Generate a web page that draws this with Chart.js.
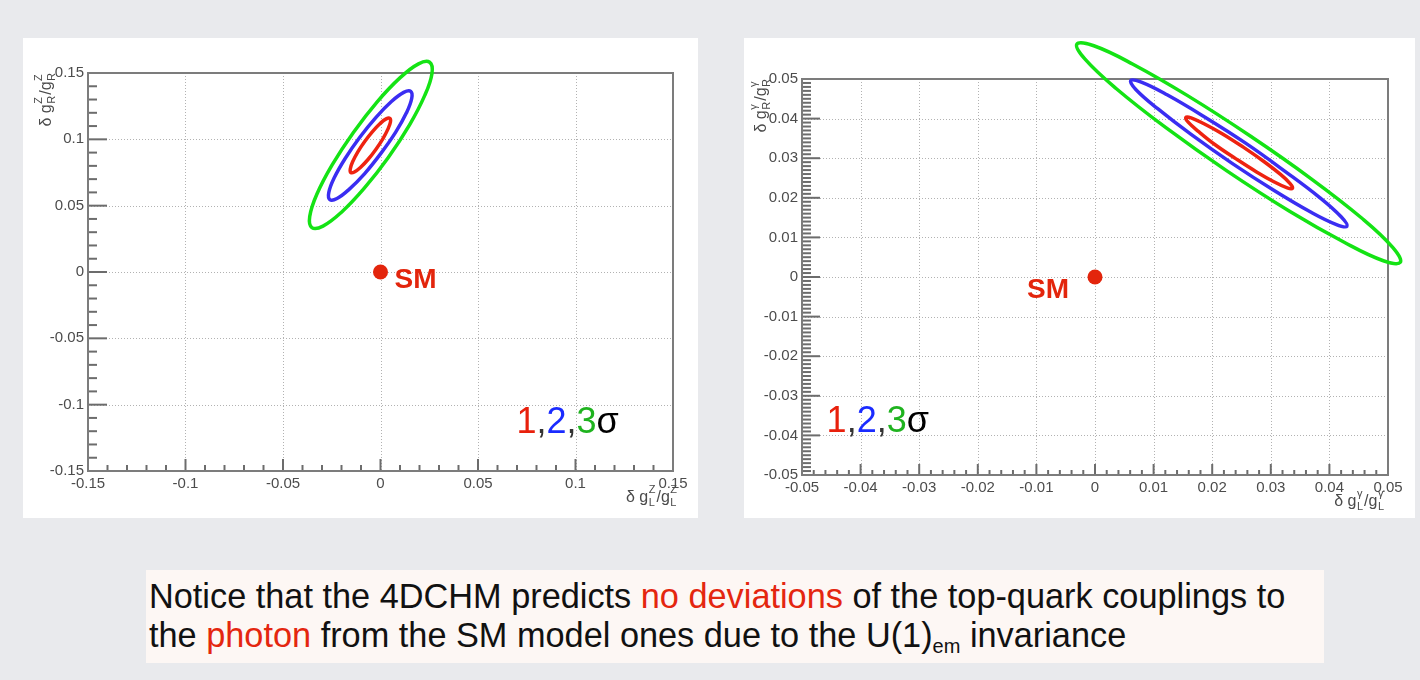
<!DOCTYPE html>
<html><head><meta charset="utf-8">
<script src="https://cdn.jsdelivr.net/npm/chart.js@4/dist/chart.umd.min.js"></script>
<style>
html,body{margin:0;padding:0;}
body{width:1420px;height:680px;background:#e9eaed;position:relative;overflow:hidden;font-family:"Liberation Sans",Arial,sans-serif;}
.panel{position:absolute;background:#fff;}
#p1{left:23px;top:38px;width:675px;height:480px;}
#p2{left:744px;top:38px;width:671px;height:480px;}
.note{position:absolute;left:146px;top:570px;width:1178px;height:93px;background:#fdf7f4;font-size:34.3px;line-height:39px;color:#111;box-sizing:border-box;padding:7px 0 0 3px;white-space:nowrap;}
.red{color:#e4260f;}
.sub{font-size:20px;position:relative;top:6px;}
</style></head>
<body>
<div class="panel" id="p1"><canvas id="c1" width="675" height="480"></canvas></div>
<div class="panel" id="p2"><canvas id="c2" width="671" height="480"></canvas></div>
<div class="note">Notice that the 4DCHM predicts <span class="red">no deviations</span> of the top-quark couplings to<br>the <span class="red">photon</span> from the SM model ones due to the U(1)<span class="sub">em</span> invariance</div>
<script>
// ---------- data ----------
// Left plot: Z couplings (x = dgL/gL, y = dgR/gR)
const zTicks = [-0.15, -0.1, -0.05, 0, 0.05, 0.1, 0.15];
const zTickLabels = ['-0.15', '-0.1', '-0.05', '0', '0.05', '0.1', '0.15'];
const zSigma1X = [0.0048, 0.0051, 0.0038, 0.0012, -0.0024, -0.0064, -0.0103, -0.0134, -0.0152, -0.0155, -0.0143, -0.0117, -0.0081, -0.0040, -0.0002, 0.0029];
const zSigma1Y = [0.1158, 0.1131, 0.1077, 0.1004, 0.0924, 0.0848, 0.0788, 0.0754, 0.0750, 0.0777, 0.0831, 0.0904, 0.0984, 0.1060, 0.1119, 0.1154];
const zSigma2X = [0.0155, 0.0160, 0.0133, 0.0078, 0.0002, -0.0081, -0.0161, -0.0223, -0.0260, -0.0265, -0.0238, -0.0182, -0.0107, -0.0023, 0.0056, 0.0119];
const zSigma2Y = [0.1362, 0.1308, 0.1200, 0.1054, 0.0894, 0.0742, 0.0623, 0.0554, 0.0546, 0.0600, 0.0708, 0.0854, 0.1014, 0.1166, 0.1285, 0.1354];
const zSigma3X = [0.0252, 0.0264, 0.0227, 0.0149, 0.0040, -0.0083, -0.0200, -0.0295, -0.0352, -0.0363, -0.0327, -0.0248, -0.0139, -0.0017, 0.0101, 0.0195];
const zSigma3Y = [0.1581, 0.1497, 0.1331, 0.1109, 0.0863, 0.0632, 0.0451, 0.0346, 0.0335, 0.0418, 0.0584, 0.0807, 0.1052, 0.1283, 0.1465, 0.1569];

// Right plot: photon couplings
const gTicks = [-0.05, -0.04, -0.03, -0.02, -0.01, 0, 0.01, 0.02, 0.03, 0.04, 0.05];
const gTickLabels = ['-0.05', '-0.04', '-0.03', '-0.02', '-0.01', '0', '0.01', '0.02', '0.03', '0.04', '0.05'];
const gSigma1X = [0.0337, 0.0328, 0.0306, 0.0275, 0.0240, 0.0205, 0.0177, 0.0159, 0.0155, 0.0164, 0.0186, 0.0217, 0.0253, 0.0287, 0.0315, 0.0333];
const gSigma1Y = [0.0224, 0.0225, 0.0240, 0.0266, 0.0299, 0.0334, 0.0367, 0.0391, 0.0403, 0.0402, 0.0387, 0.0362, 0.0328, 0.0293, 0.0261, 0.0236];
const gSigma2X = [0.0430, 0.0411, 0.0368, 0.0305, 0.0234, 0.0164, 0.0107, 0.0070, 0.0061, 0.0079, 0.0123, 0.0185, 0.0257, 0.0326, 0.0384, 0.0420];
const gSigma2Y = [0.0128, 0.0133, 0.0164, 0.0219, 0.0287, 0.0360, 0.0425, 0.0473, 0.0496, 0.0492, 0.0460, 0.0406, 0.0338, 0.0265, 0.0200, 0.0152];
const gSigma3X = [0.0521, 0.0492, 0.0426, 0.0332, 0.0225, 0.0121, 0.0036, -0.0017, -0.0031, -0.0002, 0.0064, 0.0158, 0.0265, 0.0369, 0.0455, 0.0508];
const gSigma3Y = [0.0037, 0.0041, 0.0087, 0.0166, 0.0268, 0.0377, 0.0476, 0.0550, 0.0588, 0.0584, 0.0538, 0.0458, 0.0356, 0.0248, 0.0149, 0.0075];

const smX = [0];
const smY = [0];
const sigmaLabel = ['1', ',', '2', ',', '3', 'σ'];

// ---------- styling ----------
const RED = '#ee2310', BLUE = '#3a2df2', GREEN = '#14e314', SMRED = '#e3250c';
const sigmaColors = ['#e8200c', '#333333', '#1a2bff', '#333333', '#1fb31f', '#000000'];
const FONT = '"Liberation Sans", Arial, sans-serif';

function pts(xs, ys) { return xs.map((x, i) => ({ x, y: ys[i] })); }

function contour(xs, ys, color) {
  return { data: pts(xs, ys), closed: true, showLine: true, borderColor: color, borderWidth: 3.5,
    pointRadius: 0, tension: 0.4, capBezierPoints: false, clip: false, fill: false };
}

function partsWidth(ctx, parts, mf, sf) {
  let w = 0;
  parts.forEach(p => {
    if (typeof p === 'string') { ctx.font = mf; w += ctx.measureText(p).width; }
    else { ctx.font = sf; w += Math.max(ctx.measureText(p[0]).width, ctx.measureText(p[1]).width) + 1.5; }
  });
  return w;
}
function drawParts(ctx, parts, x, y, mf, sf) {
  ctx.textAlign = 'left'; ctx.textBaseline = 'alphabetic';
  parts.forEach(p => {
    if (typeof p === 'string') { ctx.font = mf; ctx.fillText(p, x, y); x += ctx.measureText(p).width; }
    else {
      ctx.font = sf;
      ctx.fillText(p[0], x + 0.5, y - 9);
      ctx.fillText(p[1], x + 0.5, y + 4);
      x += Math.max(ctx.measureText(p[0]).width, ctx.measureText(p[1]).width) + 1.5;
    }
  });
}

const decoPlugin = {
  id: 'deco',
  beforeDatasetsDraw(chart, args, o) {
    // close the contour paths into smooth loops
    chart.data.datasets.forEach((ds, i) => {
      if (!ds.closed) return;
      const line = chart.getDatasetMeta(i).dataset;
      if (!line) return;
      line._loop = true; line._fullLoop = true;
      line._pointsUpdated = false;
      delete line._segments; line._path = undefined;
      line.updateControlPoints(chart.chartArea, 'x');
    });
    const { ctx, chartArea: a, scales: { x, y } } = chart;
    ctx.save();
    // dotted grid
    ctx.strokeStyle = '#b2b2b2'; ctx.lineWidth = 1; ctx.setLineDash([1, 2]);
    o.ticks.forEach(v => {
      if (v !== x.min && v !== x.max) {
        const px = Math.round(x.getPixelForValue(v)) + 0.5;
        ctx.beginPath(); ctx.moveTo(px, a.top); ctx.lineTo(px, a.bottom); ctx.stroke();
      }
      if (v !== y.min && v !== y.max) {
        const py = Math.round(y.getPixelForValue(v)) + 0.5;
        ctx.beginPath(); ctx.moveTo(a.left, py); ctx.lineTo(a.right, py); ctx.stroke();
      }
    });
    ctx.setLineDash([]);
    // tick marks (inside, left and bottom)
    ctx.strokeStyle = '#6c6c6c'; ctx.lineWidth = 2;
    for (let i = 0; i < o.ticks.length; i++) {
      const v = o.ticks[i];
      const px = x.getPixelForValue(v), py = y.getPixelForValue(v);
      ctx.beginPath(); ctx.moveTo(px, a.bottom); ctx.lineTo(px, a.bottom - o.xMajor); ctx.stroke();
      ctx.beginPath(); ctx.moveTo(a.left, py); ctx.lineTo(a.left + o.yMajor, py); ctx.stroke();
      if (i < o.ticks.length - 1) {
        const nv = o.ticks[i + 1];
        for (let k = 1; k < o.xDiv; k++) {
          const mx = x.getPixelForValue(v + (nv - v) * k / o.xDiv);
          ctx.beginPath(); ctx.moveTo(mx, a.bottom); ctx.lineTo(mx, a.bottom - o.xMinor); ctx.stroke();
        }
        for (let k = 1; k < o.yDiv; k++) {
          const my = y.getPixelForValue(v + (nv - v) * k / o.yDiv);
          ctx.beginPath(); ctx.moveTo(a.left, my); ctx.lineTo(a.left + o.yMinor, my); ctx.stroke();
        }
      }
    }
    // frame
    ctx.strokeStyle = '#7c7c7c'; ctx.lineWidth = 2;
    ctx.strokeRect(a.left, a.top, a.right - a.left, a.bottom - a.top);
    // axis titles
    ctx.fillStyle = '#4a4a4a';
    const mf = '16px ' + FONT, sf = '11px ' + FONT;
    const wx = partsWidth(ctx, o.xTitle, mf, sf);
    drawParts(ctx, o.xTitle, o.xTitleEnd - wx, o.xTitleBase, mf, sf);
    const wy = partsWidth(ctx, o.yTitle, mf, sf);
    ctx.save();
    ctx.translate(o.yTitleBase, o.yTitleEnd);
    ctx.rotate(-Math.PI / 2);
    drawParts(ctx, o.yTitle, -wy, 0, mf, sf);
    ctx.restore();
    ctx.restore();
  },
  afterDatasetsDraw(chart, args, o) {
    const { ctx, scales: { x, y } } = chart;
    ctx.save();
    // SM label
    const px = x.getPixelForValue(smX[0]), py = y.getPixelForValue(smY[0]);
    ctx.font = 'bold 28px ' + FONT; ctx.fillStyle = SMRED; ctx.textBaseline = 'alphabetic';
    ctx.textAlign = o.smAlign;
    ctx.fillText('SM', px + o.smDx, py + o.smDy);
    // 1,2,3 sigma
    ctx.font = '36px ' + FONT; ctx.textAlign = 'left';
    let sx = x.getPixelForValue(o.sigmaAt[0]);
    const sy = y.getPixelForValue(o.sigmaAt[1]);
    sigmaLabel.forEach((t, i) => { ctx.fillStyle = sigmaColors[i]; ctx.fillText(t, sx, sy); sx += ctx.measureText(t).width; });
    ctx.restore();
  }
};

function makeChart(id, ticks, labels, sets, yWidth, xHeight, pad, deco) {
  const axis = (isX) => ({
    type: 'linear', min: ticks[0], max: ticks[ticks.length - 1],
    afterBuildTicks: s => { s.ticks = ticks.map(v => ({ value: v })); },
    afterFit: s => { if (isX) s.height = xHeight; else s.width = yWidth; },
    grid: { display: false, drawTicks: false },
    border: { display: false },
    ticks: { autoSkip: false, maxRotation: 0, padding: 4, color: '#4c4c4c',
      font: { family: FONT, size: 15 }, callback: (v, i) => labels[i] }
  });
  return new Chart(document.getElementById(id), {
    type: 'scatter',
    data: { datasets: sets },
    options: {
      responsive: false, animation: false, events: [],
      layout: { padding: pad },
      plugins: { legend: { display: false }, tooltip: { enabled: false }, deco },
      scales: { x: axis(true), y: axis(false) }
    },
    plugins: [decoPlugin]
  });
}

const smSet = () => ({ data: pts(smX, smY), pointRadius: 7.5, pointBackgroundColor: SMRED, pointBorderWidth: 0, clip: false });

makeChart('c1', zTicks, zTickLabels, [
  smSet(),
  contour(zSigma1X, zSigma1Y, RED),
  contour(zSigma2X, zSigma2Y, BLUE),
  contour(zSigma3X, zSigma3Y, GREEN)
], 65, 47, { top: 35, right: 25, left: 0, bottom: 0 }, {
  ticks: zTicks, xDiv: 5, yDiv: 5, xMajor: 12, xMinor: 6, yMajor: 19, yMinor: 9,
  xTitle: ['δ g', ['Z', 'L'], '/g', ['Z', 'L']], xTitleEnd: 655, xTitleBase: 464,
  yTitle: ['δ g', ['Z', 'R'], '/g', ['Z', 'R']], yTitleBase: 28, yTitleEnd: 34,
  smAlign: 'left', smDx: 14, smDy: 16, sigmaAt: [0.0697, -0.1211]
});

makeChart('c2', gTicks, gTickLabels, [
  smSet(),
  contour(gSigma1X, gSigma1Y, RED),
  contour(gSigma2X, gSigma2Y, BLUE),
  contour(gSigma3X, gSigma3Y, GREEN)
], 58, 43, { top: 41, right: 27, left: 0, bottom: 0 }, {
  ticks: gTicks, xDiv: 5, yDiv: 10, xMajor: 11, xMinor: 5, yMajor: 18, yMinor: 9,
  xTitle: ['δ g', ['γ', 'L'], '/g', ['γ', 'L']], xTitleEnd: 641, xTitleBase: 468,
  yTitle: ['δ g', ['γ', 'R'], '/g', ['γ', 'R']], yTitleBase: 22, yTitleEnd: 40,
  smAlign: 'right', smDx: -26, smDy: 21, sigmaAt: [-0.0458, -0.0391]
});
</script>
</body></html>
